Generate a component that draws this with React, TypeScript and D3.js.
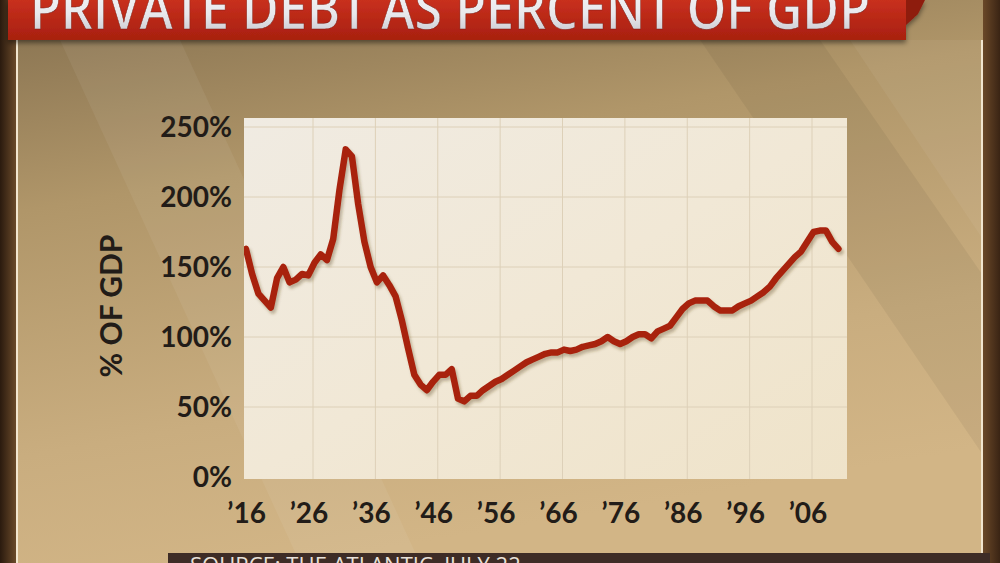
import React from "react";
import * as d3 from "d3";

const title = "PRIVATE DEBT AS PERCENT OF GDP";
const yAxisTitle = "% OF GDP";
const sourceText = "SOURCE: THE ATLANTIC, JULY 22";

const years: number[] = d3.range(1915, 2011);
const debtPct: number[] = [
  163, 145, 131, 126, 121, 142, 150, 139, 141, 145,
  144, 153, 159, 155, 170, 205, 234, 229, 195, 168,
  150, 139, 144, 137, 129, 112, 92, 73, 66, 62,
  68, 73, 73, 77, 56, 54, 58, 58, 62, 65,
  68, 70, 73, 76, 79, 82, 84, 86, 88, 89,
  89, 91, 90, 91, 93, 94, 95, 97, 100, 97,
  95, 97, 100, 102, 102, 99, 104, 106, 108, 114,
  120, 124, 126, 126, 126, 122, 119, 119, 119, 122,
  124, 126, 129, 132, 136, 142, 147, 152, 157, 161,
  168, 175, 176, 176, 168, 163,
];
const yTicks: number[] = [0, 50, 100, 150, 200, 250];
const xTickYears: number[] = [1916, 1926, 1936, 1946, 1956, 1966, 1976, 1986, 1996, 2006];
const xTickLabels: string[] = ["’16", "’26", "’36", "’46", "’56", "’66", "’76", "’86", "’96", "’06"];

const W = 1000;
const H = 563;
const plot = { left: 244, right: 847, top: 118, bottom: 479 };

export default function App() {
  const x = d3.scaleLinear().domain([1926, 2006]).range([313, 812]);
  const y = d3.scaleLinear().domain([0, 250]).range([477, 127]);
  const data = years.map((yr, i) => ({ yr, v: debtPct[i] }));
  const line = d3
    .line<{ yr: number; v: number }>()
    .x((d) => x(d.yr) + 1.5)
    .y((d) => y(d.v))
    .curve(d3.curveLinear);

  const font = "Lato, 'Open Sans', sans-serif";

  return (
    <svg
      width={W}
      height={H}
      viewBox={`0 0 ${W} ${H}`}
      style={{ position: "absolute", left: 0, top: 0, display: "block" }}
    >
      <defs>
        <linearGradient id="bg" x1="0" y1="0" x2="0.3" y2="1">
          <stop offset="0" stopColor="#85704f" />
          <stop offset="0.35" stopColor="#b09669" />
          <stop offset="0.75" stopColor="#c9ad7f" />
          <stop offset="1" stopColor="#d2b586" />
        </linearGradient>
        <linearGradient id="leftEdge" x1="0" y1="0" x2="1" y2="0">
          <stop offset="0" stopColor="#2a1a0e" />
          <stop offset="1" stopColor="#6a4a2a" />
        </linearGradient>
        <linearGradient id="rightEdge" x1="0" y1="0" x2="1" y2="0">
          <stop offset="0" stopColor="#6a4828" />
          <stop offset="1" stopColor="#3a2414" />
        </linearGradient>
        <linearGradient id="plotBg" x1="0" y1="0" x2="1" y2="1">
          <stop offset="0" stopColor="#f0ebe2" />
          <stop offset="0.5" stopColor="#f1e8d6" />
          <stop offset="1" stopColor="#efe3c9" />
        </linearGradient>
        <linearGradient id="banner" x1="0" y1="0" x2="0" y2="1">
          <stop offset="0" stopColor="#c8301e" />
          <stop offset="1" stopColor="#a8200f" />
        </linearGradient>
        <linearGradient id="titleText" x1="0" y1="0" x2="0" y2="1">
          <stop offset="0" stopColor="#ffffff" />
          <stop offset="0.6" stopColor="#e8e8ec" />
          <stop offset="1" stopColor="#b8b8c0" />
        </linearGradient>
        <filter id="shadow" x="-5%" y="-5%" width="110%" height="115%">
          <feDropShadow dx="2" dy="3" stdDeviation="1.5" floodColor="#5a4020" floodOpacity="0.35" />
        </filter>
        <filter id="bannerShadow" x="-5%" y="-20%" width="110%" height="160%">
          <feDropShadow dx="0" dy="3" stdDeviation="2.5" floodColor="#000" floodOpacity="0.45" />
        </filter>
        <clipPath id="plotClip">
          <rect x={plot.left} y={plot.top} width={plot.right - plot.left} height={plot.bottom - plot.top} />
        </clipPath>
      </defs>

      {/* background */}
      <rect x={0} y={0} width={W} height={H} fill="url(#bg)" />
      <polygon points="60,40 180,40 420,563 300,563" fill="#ffffff" opacity={0.06} />
      <polygon points="700,40 820,40 1000,300 1000,480" fill="#000000" opacity={0.05} />
      <polygon points="850,40 990,40 990,250" fill="#ffffff" opacity={0.05} />
      <rect x={0} y={0} width={16} height={H} fill="url(#leftEdge)" />
      <rect x={16} y={40} width={2} height={H} fill="#f2e6cf" />
      <rect x={983} y={0} width={17} height={H} fill="url(#rightEdge)" />
      <rect x={981} y={40} width={2} height={H} fill="#f2e6cf" />

      {/* plot area */}
      <rect
        x={plot.left}
        y={plot.top}
        width={plot.right - plot.left}
        height={plot.bottom - plot.top}
        fill="url(#plotBg)"
      />
      <g clipPath="url(#plotClip)">
        {yTicks.filter((t) => t > 0).map((t) => (
          <line key={"gy" + t} x1={plot.left} x2={plot.right} y1={y(t)} y2={y(t)} stroke="#ddd0b8" strokeWidth={1} />
        ))}
        {xTickYears.filter((t) => t > 1916).map((t) => (
          <line key={"gx" + t} x1={x(t)} x2={x(t)} y1={plot.top} y2={plot.bottom} stroke="#ddd0b8" strokeWidth={1} />
        ))}
        <path
          d={line(data) ?? ""}
          fill="none"
          stroke="#a8230f"
          strokeWidth={6.5}
          strokeLinejoin="round"
          strokeLinecap="round"
          filter="url(#shadow)"
        />
      </g>

      {/* y axis labels */}
      {yTicks.map((t) => (
        <text
          key={"yl" + t}
          x={232}
          y={y(t) + 10}
          textAnchor="end"
          fontFamily={font}
          fontWeight={700}
          fontSize={28}
          fill="#221c18"
        >
          {t}%
        </text>
      ))}
      <text
        transform="translate(122,306) rotate(-90)"
        textAnchor="middle"
        fontFamily={font}
        fontWeight={700}
        fontSize={30}
        fill="#221c18"
      >
        {yAxisTitle}
      </text>

      {/* x axis labels */}
      {xTickYears.map((t, i) => (
        <text
          key={"xl" + t}
          x={x(t) - 4}
          y={523}
          textAnchor="middle"
          fontFamily={font}
          fontWeight={700}
          fontSize={28}
          fill="#221c18"
        >
          {xTickLabels[i]}
        </text>
      ))}

      {/* title banner */}
      <g filter="url(#bannerShadow)">
        <polygon points="895,0 925,0 918,14 905,26" fill="#8e1a0c" />
        <rect x={8} y={0} width={898} height={40} fill="url(#banner)" />
      </g>
      <text
        x={30}
        y={29}
        fontFamily="'Open Sans', Lato, sans-serif"
        fontWeight={600}
        fontSize={58}
        textLength={840}
        lengthAdjust="spacingAndGlyphs"
        fill="url(#titleText)"
        stroke="#7a1a10"
        strokeWidth={0.5}
      >
        {title}
      </text>

      {/* source bar */}
      <rect x={168} y={553} width={822} height={10} fill="#3e2c26" />
      <text
        x={190}
        y={573}
        fontFamily="'Open Sans', sans-serif"
        fontSize={22}
        fill="#e8e0d8"
      >
        {sourceText}
      </text>
    </svg>
  );
}
